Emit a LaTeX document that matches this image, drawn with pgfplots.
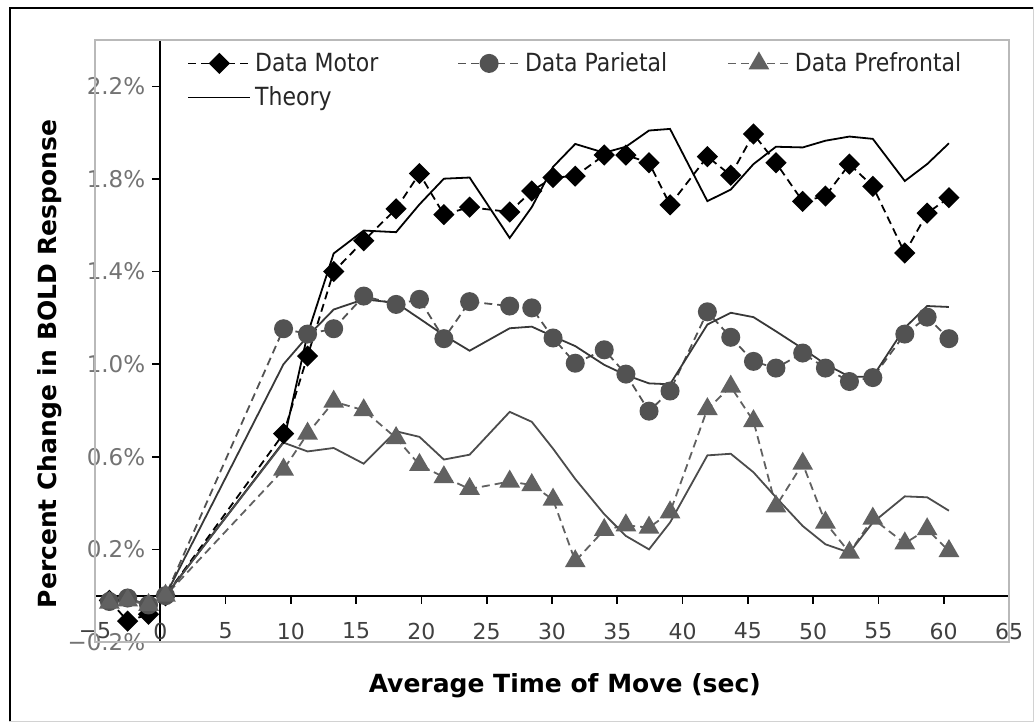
\documentclass[border=0pt]{standalone}
\usepackage{pgfplots}
\pgfplotsset{compat=1.18}
\usepackage{pgfplotstable}
\usepackage{fontspec}
\setmainfont{DejaVu Sans}
\newfontfamily\legfont[FakeStretch=0.88]{DejaVu Sans}

\definecolor{pardot}{gray}{0.32}
\definecolor{predot}{gray}{0.38}
\definecolor{parth}{gray}{0.22}
\definecolor{preth}{gray}{0.30}

% x = average time of move (sec), values in percent change
\pgfplotstableread{
x      motor   motorth  par     parth   pre     preth
-3.9   -0.02   nan      -0.025  nan     -0.03   nan
-2.5   -0.11   nan      -0.01   nan     -0.02   nan
-0.9   -0.08   nan      -0.04   nan     -0.04   nan
0.4    0.0     0.0      0.0     0.0     0.0     0.0
9.44   0.700   0.664    1.153   1.000   0.545   0.661
11.28  1.035   1.130    1.130   1.120   0.700   0.623
13.28  1.400   1.478    1.153   1.236   0.838   0.638
15.58  1.533   1.577    1.294   1.280   0.801   0.570
18.06  1.671   1.570    1.258   1.265   0.681   0.710
19.85  1.823   1.690    1.280   1.197   0.565   0.686
21.72  1.646   1.801    1.110   1.125   0.512   0.588
23.69  1.678   1.806    1.270   1.058   0.461   0.609
26.76  1.657   1.545    1.251   1.155   0.493   0.794
28.45  1.748   1.678    1.243   1.162   0.478   0.751
30.08  1.806   1.852    1.113   1.120   0.415   0.635
31.78  1.812   1.951    1.004   1.078   0.149   0.504
34.00  1.903   1.913    1.062   0.997   0.284   0.352
35.66  1.903   1.939    0.957   0.953   0.304   0.258
37.43  1.870   2.009    0.797   0.917   0.294   0.200
39.04  1.688   2.016    0.884   0.913   0.360   0.316
41.90  1.896   1.704    1.226   1.171   0.806   0.606
43.69  1.816   1.754    1.116   1.222   0.903   0.613
45.43  1.994   1.864    1.012   1.203   0.754   0.533
47.15  1.870   1.939    0.983   1.142   0.386   0.425
49.20  1.703   1.936    1.048   1.067   0.570   0.301
50.94  1.726   1.965    0.983   1.000   0.316   0.222
52.78  1.864   1.983    0.925   0.946   0.186   0.186
54.57  1.768   1.973    0.942   0.946   0.333   0.316
57.02  1.480   1.791    1.130   1.157   0.226   0.429
58.73  1.652   1.864    1.203   1.251   0.287   0.425
60.40  1.719   1.954    1.110   1.247   0.193   0.367
}\bold

\begin{document}
\begin{tikzpicture}
\begin{axis}[
    scale only axis,
    width=457pt, height=301pt,
    xmin=-5, xmax=65, ymin=-0.2, ymax=2.4,
    axis lines=middle,
    axis line style={-, black, line width=1pt},
    xtick={-5,0,5,10,15,20,25,30,35,40,45,50,55,60,65},
    xticklabels={−5,0,5,10,15,20,25,30,35,40,45,50,55,60,65},
    ytick={-0.2,0.2,0.6,1.0,1.4,1.8,2.2},
    yticklabels={−0.2\%,0.2\%,0.6\%,1.0\%,1.4\%,1.8\%,2.2\%},
    hide obscured x ticks=false, hide obscured y ticks=false,
    tick align=outside,
    major tick length=4pt,
    tick style={black, line width=0.8pt},
    xticklabel style={font=\fontsize{11}{13}\selectfont, text=black!75, yshift=-6pt},
    yticklabel style={font=\fontsize{11.5}{13}\selectfont, text=black!55},
    unbounded coords=jump,
    legend style={at={(rel axis cs:0.0985,0.99)}, anchor=north west,
        draw=none, fill=none, inner sep=1pt, row sep=2pt,
        font=\legfont\fontsize{12.5}{15}\selectfont, text=black!85,
        /tikz/every even column/.append style={column sep=0pt}},
    legend columns=3,
    legend cell align=left,
    legend image code/.code={\draw[mark repeat=2,mark phase=2,#1]
        plot coordinates {(0pt,0pt) (15.5pt,0pt) (31pt,0pt)};},
    every axis plot/.append style={line width=0.9pt},
]
\addplot[black, dash pattern=on 4pt off 2.5pt, mark=square*, mark size=3.3pt,
    mark options={solid, rotate=45, fill=black}] table[x=x, y=motor] {\bold};
\addlegendentry{\makebox[99pt][l]{Data Motor}}
\addplot[pardot, dash pattern=on 4pt off 2.5pt, mark=*, mark size=4.3pt,
    mark options={solid, fill=pardot}] table[x=x, y=par] {\bold};
\addlegendentry{\makebox[99pt][l]{Data Parietal}}
\addplot[predot, dash pattern=on 4pt off 2.5pt, mark=triangle*, mark size=5.1pt,
    mark options={solid, fill=predot}] table[x=x, y=pre] {\bold};
\addlegendentry{Data Prefrontal}
\addplot[black, solid, no markers] table[x=x, y=motorth] {\bold};
\addlegendentry{Theory}
\addplot[parth, solid, no markers, forget plot] table[x=x, y=parth] {\bold};
\addplot[preth, solid, no markers, forget plot] table[x=x, y=preth] {\bold};

\coordinate (pSW) at (rel axis cs:0,0);
\coordinate (pNE) at (rel axis cs:1,1);
\coordinate (xl) at (rel axis cs:0.514,0);
\coordinate (yl) at (rel axis cs:0,0.462);
\end{axis}

\draw[gray!55, line width=0.8pt] (pSW) rectangle (pNE);
\node[font=\bfseries\fontsize{12.5}{15}\selectfont] at ([yshift=-22pt]xl)
    {Average Time of Move (sec)};
\node[font=\bfseries\fontsize{12.5}{15}\selectfont, rotate=90] at ([xshift=-22.5pt]yl)
    {Percent Change in BOLD Response};

\coordinate (oSW) at ([xshift=-42.5pt, yshift=-39.5pt]pSW);
\coordinate (oNE) at ([xshift=12pt, yshift=16pt]pNE);
\draw[gray!35, line width=0.5pt] (oSW) rectangle (oNE);
\draw[black, line width=1.4pt] (oSW) -- (oSW |- oNE) -- (oNE);
\useasboundingbox ([xshift=-5pt, yshift=-0.5pt]oSW) rectangle ([xshift=1pt, yshift=4pt]oNE);
\end{tikzpicture}
\end{document}
